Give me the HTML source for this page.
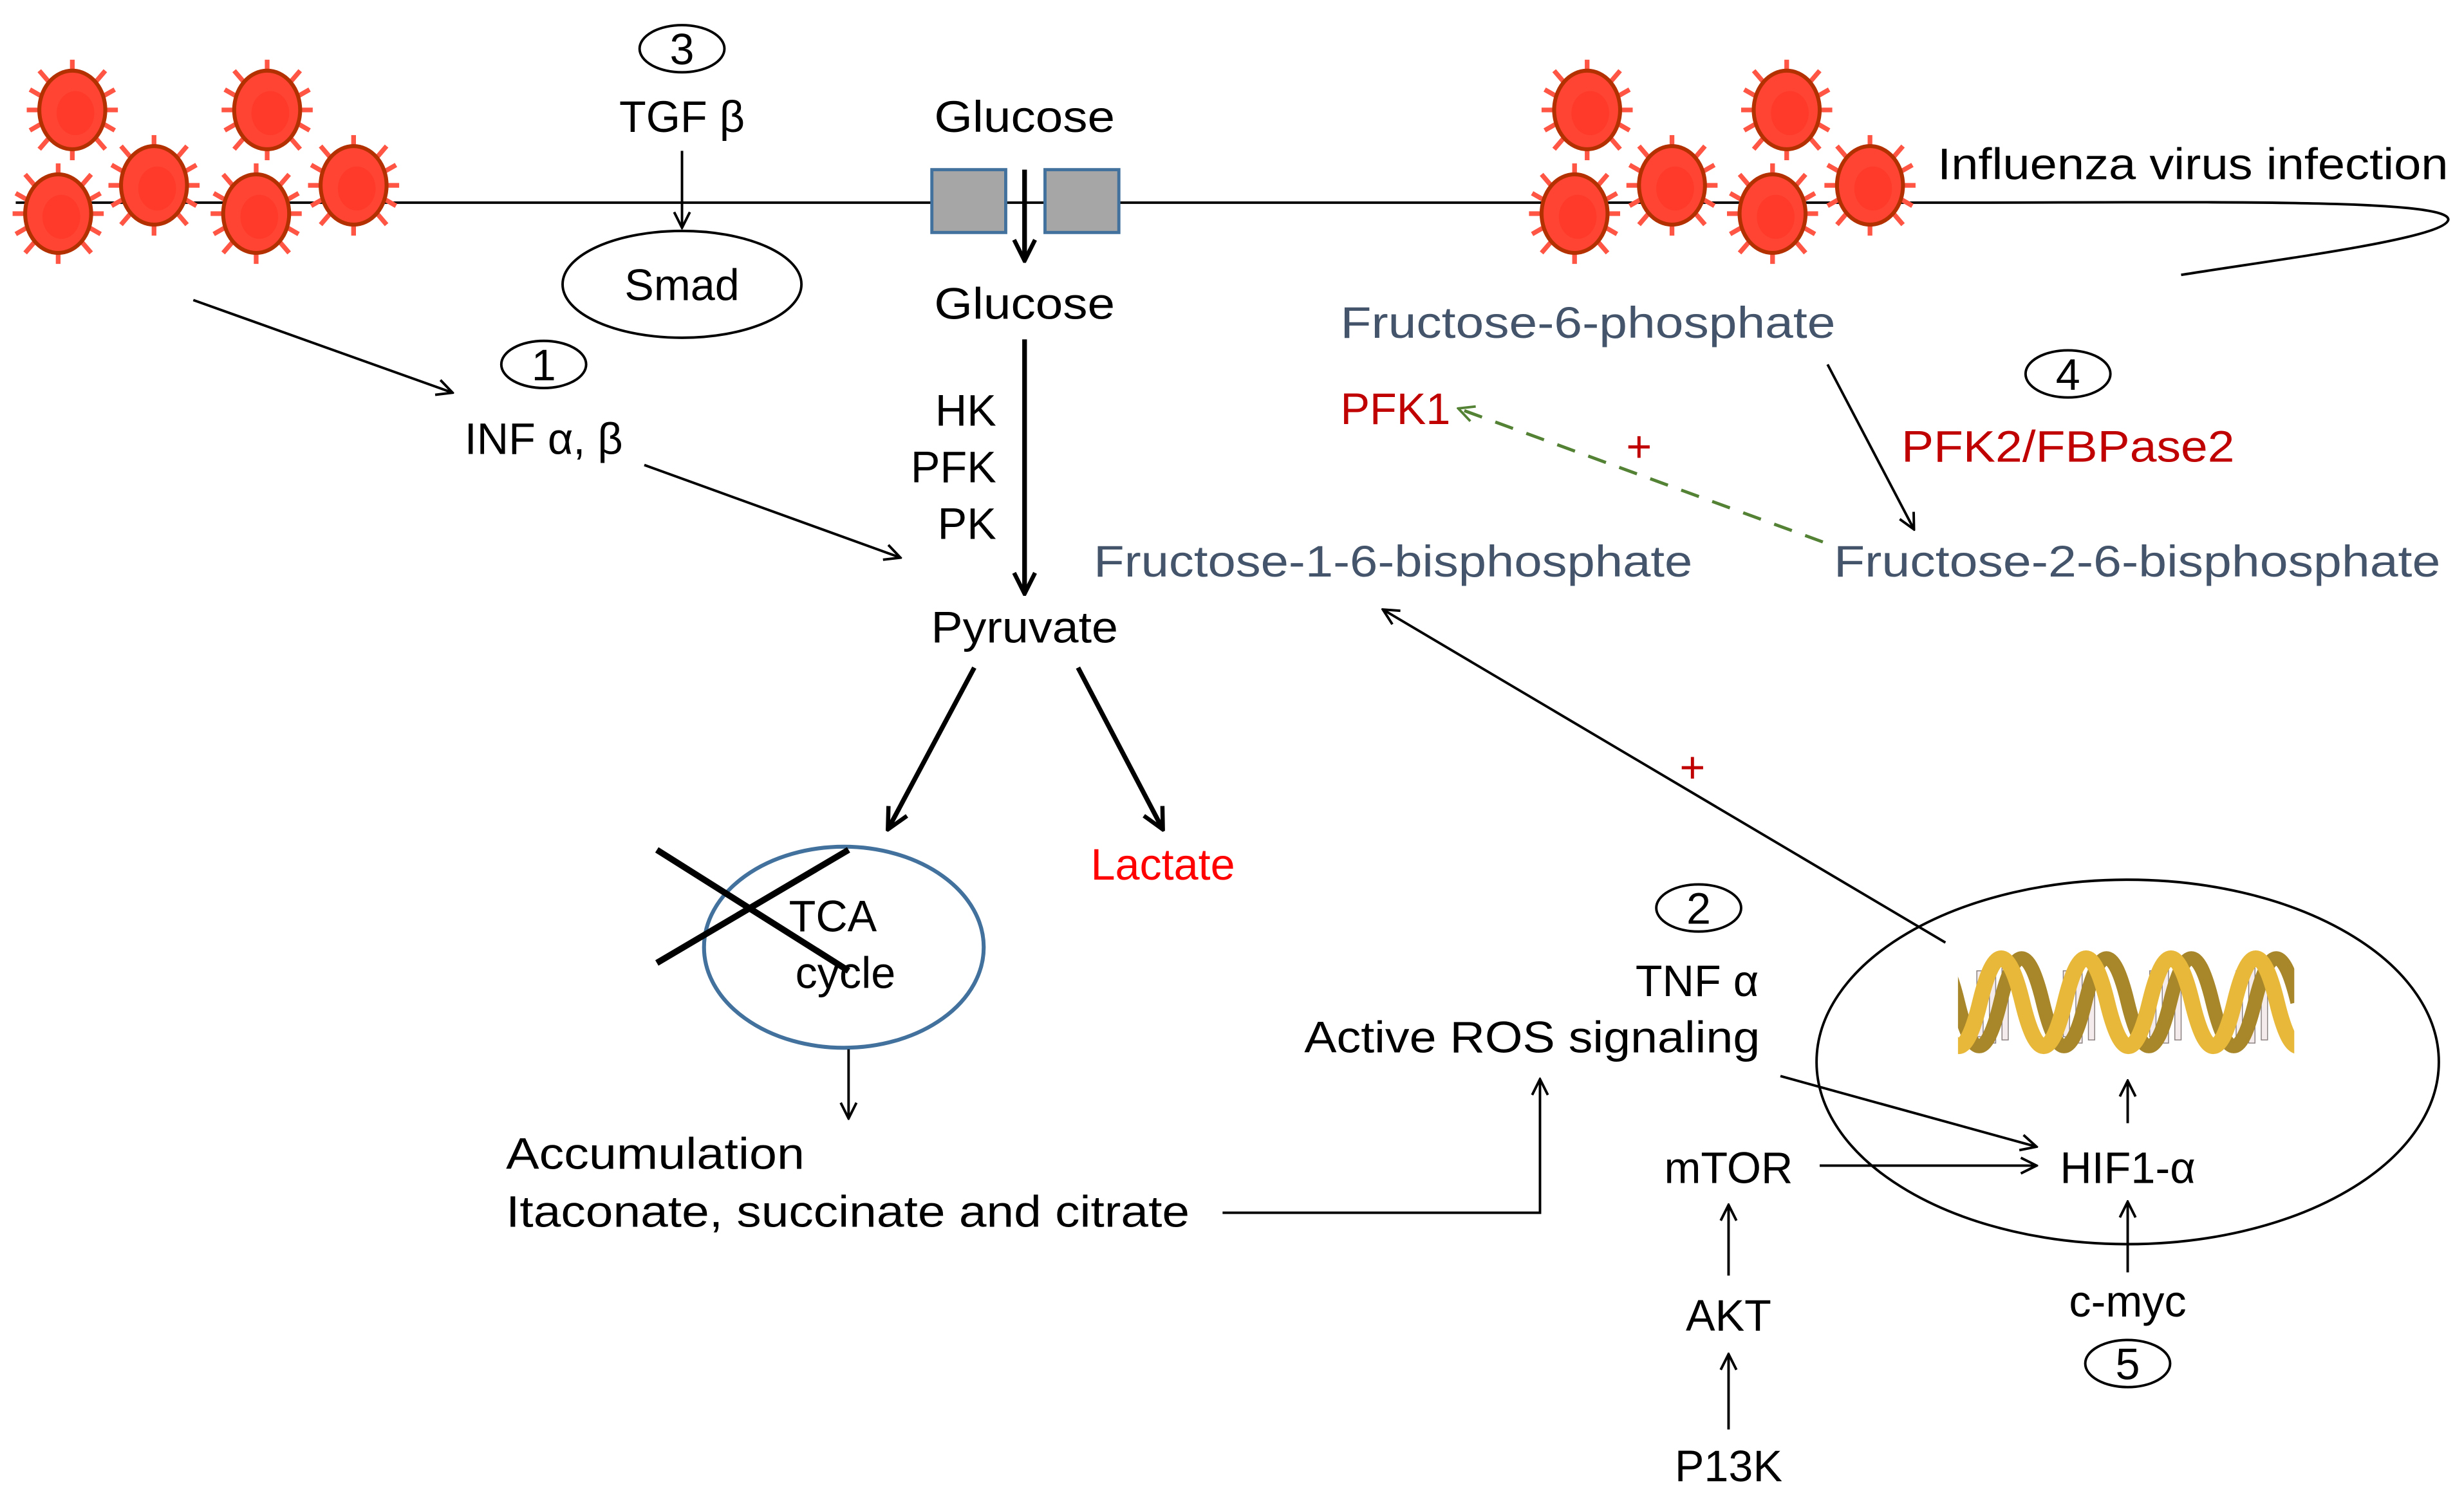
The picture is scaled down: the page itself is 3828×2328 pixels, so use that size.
<!DOCTYPE html>
<html><head><meta charset="utf-8"><style>
html,body{margin:0;padding:0;background:#fff;}
svg{display:block;}
text{font-family:"Liberation Sans",sans-serif;font-size:28px;fill:#000;}
.b{fill:#44546a;}
.r{fill:#c00000;}
</style></head><body>
<svg width="3828" height="2328" viewBox="0 0 1568 953.6" xmlns="http://www.w3.org/2000/svg">
<defs>
<marker id="a" viewBox="0 0 12 12" refX="11" refY="6" markerWidth="12" markerHeight="12" markerUnits="userSpaceOnUse" orient="auto"><path d="M1,1 L11,6 L1,11" fill="none" stroke="#000" stroke-width="1.6"/></marker>
<marker id="at" viewBox="0 0 12 12" refX="11" refY="6" markerWidth="16" markerHeight="16" markerUnits="userSpaceOnUse" orient="auto"><path d="M1,1 L11,6 L1,11" fill="none" stroke="#000" stroke-width="2"/></marker>
<marker id="ag" viewBox="0 0 12 12" refX="11" refY="6" markerWidth="12" markerHeight="12" markerUnits="userSpaceOnUse" orient="auto"><path d="M1,1 L11,6 L1,11" fill="none" stroke="#548235" stroke-width="1.6"/></marker>
<clipPath id="dc"><rect x="1246" y="590" width="214" height="100"/></clipPath>
<g id="v">
<g stroke="#ff5544" stroke-width="3" fill="#ff5544">
<line x1="0" y1="-24" x2="0" y2="-32"/><line x1="0" y1="24" x2="0" y2="32"/>
<line x1="-21" y1="0" x2="-29" y2="0"/><line x1="21" y1="0" x2="29" y2="0"/>
<line x1="15" y1="-18" x2="21" y2="-25"/><line x1="-15" y1="-18" x2="-21" y2="-25"/>
<line x1="15" y1="18" x2="21" y2="25"/><line x1="-15" y1="18" x2="-21" y2="25"/>
<line x1="20" y1="-9" x2="27" y2="-13"/><line x1="-20" y1="9" x2="-27" y2="13"/>
<line x1="20" y1="9" x2="27" y2="13"/><line x1="-20" y1="-9" x2="-27" y2="-13"/>
</g>
<ellipse cx="0" cy="0" rx="21" ry="25" fill="#ff4433" stroke="#b33000" stroke-width="2.5"/>
<ellipse cx="2" cy="2" rx="12" ry="14" fill="#ff3a2a"/>
</g>
</defs>

<path d="M10,129 L1240,129 C1400,129 1560,126 1558,140 C1555,152 1450,165 1388,175" fill="none" stroke="#000" stroke-width="1.6"/>

<use href="#v" x="46" y="70"/><use href="#v" x="170" y="70"/>
<use href="#v" x="98" y="118"/><use href="#v" x="225" y="118"/>
<use href="#v" x="37" y="136"/><use href="#v" x="163" y="136"/>
<use href="#v" x="1010" y="70"/><use href="#v" x="1137" y="70"/>
<use href="#v" x="1064" y="118"/><use href="#v" x="1190" y="118"/>
<use href="#v" x="1002" y="136"/><use href="#v" x="1128" y="136"/>

<text x="1233" y="114" textLength="325" lengthAdjust="spacingAndGlyphs">Influenza virus infection</text>

<ellipse cx="434" cy="31" rx="27" ry="15" fill="none" stroke="#000" stroke-width="1.6"/>
<text x="434" y="41" text-anchor="middle">3</text>
<text x="434" y="84" text-anchor="middle">TGF β</text>
<line x1="434" y1="96" x2="434" y2="145" stroke="#000" stroke-width="1.6" marker-end="url(#a)"/>
<ellipse cx="434" cy="181" rx="76" ry="34" fill="none" stroke="#000" stroke-width="1.6"/>
<text x="434" y="191" text-anchor="middle">Smad</text>

<text x="652" y="84" text-anchor="middle" textLength="115" lengthAdjust="spacingAndGlyphs">Glucose</text>
<rect x="593" y="108" width="47" height="40" fill="#a6a6a6" stroke="#41719c" stroke-width="2"/>
<rect x="665" y="108" width="47" height="40" fill="#a6a6a6" stroke="#41719c" stroke-width="2"/>
<line x1="652" y1="108" x2="652" y2="166" stroke="#000" stroke-width="3" marker-end="url(#at)"/>
<text x="652" y="203" text-anchor="middle" textLength="115" lengthAdjust="spacingAndGlyphs">Glucose</text>
<line x1="652" y1="216" x2="652" y2="378" stroke="#000" stroke-width="3" marker-end="url(#at)"/>
<text x="634" y="271" text-anchor="end">HK</text>
<text x="634" y="307" text-anchor="end">PFK</text>
<text x="634" y="343" text-anchor="end">PK</text>
<text x="652" y="409" text-anchor="middle" textLength="119" lengthAdjust="spacingAndGlyphs">Pyruvate</text>
<line x1="620" y1="425" x2="565" y2="528" stroke="#000" stroke-width="3" marker-end="url(#at)"/>
<line x1="686" y1="425" x2="740" y2="528" stroke="#000" stroke-width="3" marker-end="url(#at)"/>
<text x="740" y="560" text-anchor="middle" style="fill:#ff0000">Lactate</text>

<ellipse cx="537" cy="603" rx="89" ry="64" fill="none" stroke="#41719c" stroke-width="2.5"/>
<text x="530" y="593" text-anchor="middle">TCA</text>
<text x="538" y="629" text-anchor="middle">cycle</text>
<line x1="418" y1="541" x2="540" y2="618" stroke="#000" stroke-width="4"/>
<line x1="418" y1="613" x2="540" y2="541" stroke="#000" stroke-width="4"/>
<line x1="540" y1="668" x2="540" y2="712" stroke="#000" stroke-width="1.6" marker-end="url(#a)"/>
<text x="322" y="744" textLength="190" lengthAdjust="spacingAndGlyphs">Accumulation</text>
<text x="322" y="781" textLength="435" lengthAdjust="spacingAndGlyphs">Itaconate, succinate and citrate</text>
<polyline points="778,772 980,772 980,687" fill="none" stroke="#000" stroke-width="1.6" marker-end="url(#a)"/>

<ellipse cx="346" cy="232" rx="27" ry="15" fill="none" stroke="#000" stroke-width="1.6"/>
<text x="346" y="242" text-anchor="middle">1</text>
<text x="346" y="289" text-anchor="middle">INF α, β</text>
<line x1="123" y1="191" x2="288" y2="250" stroke="#000" stroke-width="1.6" marker-end="url(#a)"/>
<line x1="410" y1="296" x2="573" y2="355" stroke="#000" stroke-width="1.6" marker-end="url(#a)"/>

<text x="853" y="215" class="b" textLength="315" lengthAdjust="spacingAndGlyphs">Fructose-6-phosphate</text>
<line x1="1163" y1="232" x2="1218" y2="337" stroke="#000" stroke-width="1.6" marker-end="url(#a)"/>
<text x="853" y="270" class="r">PFK1</text>
<line x1="1160" y1="345" x2="928" y2="260" stroke="#548235" stroke-width="2" stroke-dasharray="12,9" marker-end="url(#ag)"/>
<text x="1043" y="294" text-anchor="middle" class="r">+</text>
<ellipse cx="1316" cy="238" rx="27" ry="15" fill="none" stroke="#000" stroke-width="1.6"/>
<text x="1316" y="248" text-anchor="middle">4</text>
<text x="1210" y="294" class="r" textLength="212" lengthAdjust="spacingAndGlyphs">PFK2/FBPase2</text>
<text x="696" y="367" class="b" textLength="381" lengthAdjust="spacingAndGlyphs">Fructose-1-6-bisphosphate</text>
<text x="1167" y="367" class="b" textLength="386" lengthAdjust="spacingAndGlyphs">Fructose-2-6-bisphosphate</text>
<line x1="1238" y1="600" x2="880" y2="388" stroke="#000" stroke-width="1.6" marker-end="url(#a)"/>
<text x="1077" y="498" text-anchor="middle" class="r">+</text>

<ellipse cx="1081" cy="578" rx="27" ry="15" fill="none" stroke="#000" stroke-width="1.6"/>
<text x="1081" y="588" text-anchor="middle">2</text>
<text x="1080" y="634" text-anchor="middle">TNF α</text>
<text x="975" y="670" text-anchor="middle" textLength="290" lengthAdjust="spacingAndGlyphs">Active ROS signaling</text>
<line x1="1133" y1="685" x2="1296" y2="730" stroke="#000" stroke-width="1.6" marker-end="url(#a)"/>

<ellipse cx="1354" cy="676" rx="198" ry="116" fill="none" stroke="#000" stroke-width="1.6"/>
<g clip-path="url(#dc)">
<g fill="#f4ecec" stroke="#8a8080" stroke-width="0.6">
<rect x="1258" y="618" width="4" height="42"/><rect x="1266" y="614" width="4" height="50"/><rect x="1274" y="616" width="4" height="46"/>
<rect x="1313" y="618" width="4" height="42"/><rect x="1321" y="614" width="4" height="50"/><rect x="1329" y="616" width="4" height="46"/>
<rect x="1368" y="618" width="4" height="42"/><rect x="1376" y="614" width="4" height="50"/><rect x="1384" y="616" width="4" height="46"/>
<rect x="1423" y="618" width="4" height="42"/><rect x="1431" y="614" width="4" height="50"/><rect x="1439" y="616" width="4" height="46"/>
</g>
<path d="M1219,638 Q1232.5,582 1246,638 T1273,638 T1300,638 T1327,638 T1354,638 T1381,638 T1408,638 T1435,638 T1462,638" fill="none" stroke="#a8862a" stroke-width="9"/>
<path d="M1233,638 Q1246.5,694 1260,638 T1287,638 T1314,638 T1341,638 T1368,638 T1395,638 T1422,638 T1449,638 T1476,638" fill="none" stroke="#e8b83a" stroke-width="10"/>
</g>
<line x1="1354" y1="715" x2="1354" y2="688" stroke="#000" stroke-width="1.6" marker-end="url(#a)"/>
<text x="1354" y="753" text-anchor="middle">HIF1-α</text>
<text x="1100" y="753" text-anchor="middle">mTOR</text>
<line x1="1158" y1="742" x2="1296" y2="742" stroke="#000" stroke-width="1.6" marker-end="url(#a)"/>
<text x="1354" y="838" text-anchor="middle">c-myc</text>
<line x1="1354" y1="810" x2="1354" y2="765" stroke="#000" stroke-width="1.6" marker-end="url(#a)"/>
<ellipse cx="1354" cy="868" rx="27" ry="15" fill="none" stroke="#000" stroke-width="1.6"/>
<text x="1354" y="878" text-anchor="middle">5</text>
<text x="1100" y="847" text-anchor="middle">AKT</text>
<line x1="1100" y1="812" x2="1100" y2="767" stroke="#000" stroke-width="1.6" marker-end="url(#a)"/>
<text x="1100" y="943" text-anchor="middle">P13K</text>
<line x1="1100" y1="910" x2="1100" y2="862" stroke="#000" stroke-width="1.6" marker-end="url(#a)"/>
</svg>
</body></html>
